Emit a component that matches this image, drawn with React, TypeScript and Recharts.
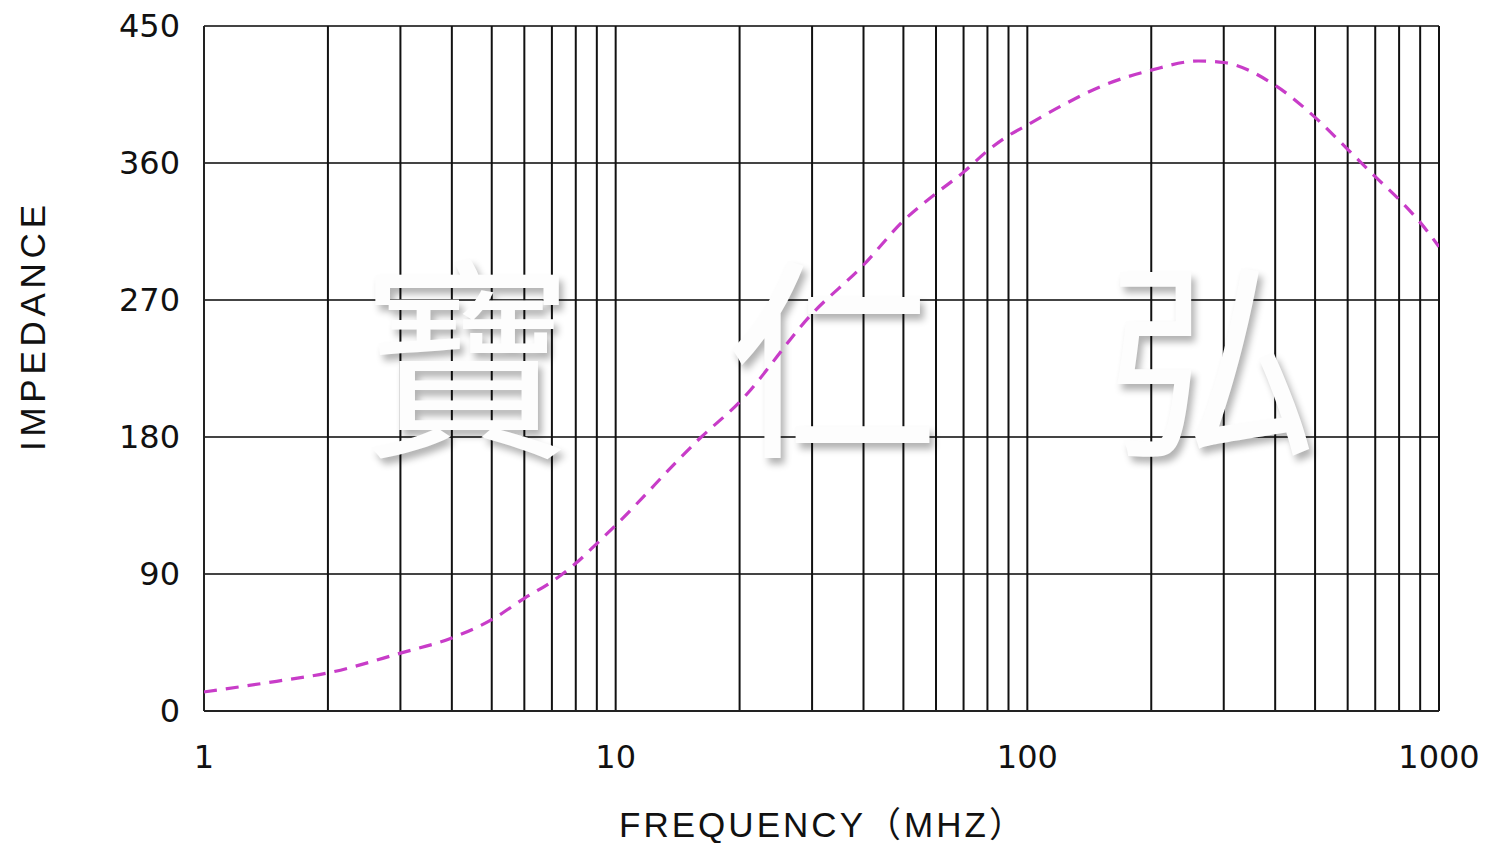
import { LineChart, Line, XAxis, YAxis, CartesianGrid } from "recharts";

// impedance curve (MHz -> ohm)
const frequencies = [
  1, 1.5, 2, 3, 4, 5, 6, 7, 8, 9, 10, 16, 20, 30, 40, 50, 60, 70, 80, 90, 100,
  120, 150, 200, 260, 300, 400, 500, 600, 700, 800, 900, 1000,
];
const impedances = [
  12.5, 19.5, 25, 38, 48, 60, 74, 85, 97, 110, 122, 179, 203, 261, 293, 322, 340,
  354, 368, 378, 385, 397, 410, 421, 427, 426, 411, 390, 369, 351, 336, 321, 305,
];

const yTicks = [0, 90, 180, 270, 360, 450];
const xTicks = [
  1, 2, 3, 4, 5, 6, 7, 8, 9, 10, 20, 30, 40, 50, 60, 70, 80, 90, 100, 200, 300,
  400, 500, 600, 700, 800, 900, 1000,
];
const xLabels = [1, 10, 100, 1000];
const watermark = ["寶", "仁", "弘"];

const data = frequencies.map((f, i) => ({ f, z: impedances[i] }));

const W = 1486;
const H = 843;
const tickFont = { fill: "#111", fontSize: 32, fontFamily: "DejaVu Sans" };
const titleFont = "'Liberation Sans', 'Noto Sans CJK SC', sans-serif";

function YTitle({ viewBox }: any) {
  const x = viewBox.x + 32;
  const y = viewBox.y + 302;
  return (
    <text
      x={x}
      y={y}
      transform={`rotate(-90 ${x} ${y})`}
      textAnchor="middle"
      dominantBaseline="central"
      fontSize={35}
      fontFamily={titleFont}
      textLength={246}
      lengthAdjust="spacing"
      fill="#111"
    >
      IMPEDANCE
    </text>
  );
}

function XTitle({ viewBox }: any) {
  return (
    <text
      x={viewBox.x + viewBox.width / 2}
      y={viewBox.y + 126}
      textAnchor="middle"
      fontSize={35}
      fontFamily={titleFont}
      textLength={405}
      lengthAdjust="spacing"
      fill="#111"
    >
      FREQUENCY（MHZ）
    </text>
  );
}

export default function App() {
  return (
    <div
      style={{
        position: "absolute",
        left: 0,
        top: 0,
        width: W,
        height: H,
        background: "#fff",
        overflow: "hidden",
      }}
    >
      {/* grid + axes */}
      <div style={{ position: "absolute", left: 0, top: 0 }}>
        <LineChart
          width={W}
          height={H}
          data={data}
          margin={{ top: 26, right: 47, bottom: 0, left: 0 }}
        >
          <CartesianGrid vertical={false} stroke="#444" strokeWidth={2} />
          <CartesianGrid horizontal={false} stroke="#111" strokeWidth={2} />
          <XAxis
            dataKey="f"
            type="number"
            scale="log"
            domain={[1, 1000]}
            ticks={xTicks}
            interval={0}
            height={132}
            tickLine={false}
            tickMargin={28}
            axisLine={{ stroke: "#222", strokeWidth: 2 }}
            tick={tickFont}
            tickFormatter={(v) => (xLabels.includes(v) ? String(v) : "")}
            allowDataOverflow
            label={{ content: (p: any) => <XTitle viewBox={p.viewBox} /> }}
          />
          <YAxis
            dataKey="z"
            type="number"
            domain={[0, 450]}
            ticks={yTicks}
            interval={0}
            width={204}
            tickLine={false}
            tickMargin={18}
            axisLine={{ stroke: "#222", strokeWidth: 2 }}
            tick={tickFont}
            label={{ content: (p: any) => <YTitle viewBox={p.viewBox} /> }}
          />
          <Line
            dataKey="z"
            stroke="none"
            dot={false}
            activeDot={false}
            isAnimationActive={false}
          />
        </LineChart>
      </div>

      {/* watermark */}
      {watermark.map((ch, i) => (
        <span
          key={ch}
          style={{
            position: "absolute",
            left: [467, 832, 1212][i],
            top: 347,
            transform: "translate(-50%, -50%)",
            fontFamily: "'Noto Sans CJK TC', sans-serif",
            fontSize: 215,
            lineHeight: 1,
            color: "#fdfdfd",
            textShadow: "4px 6px 7px rgba(0,0,0,0.3)",
          }}
        >
          {ch}
        </span>
      ))}

      {/* curve on top */}
      <div style={{ position: "absolute", left: 0, top: 0 }}>
        <LineChart
          width={W}
          height={H}
          data={data}
          margin={{ top: 26, right: 47, bottom: 132, left: 204 }}
        >
          <XAxis
            dataKey="f"
            type="number"
            scale="log"
            domain={[1, 1000]}
            allowDataOverflow
            hide
          />
          <YAxis type="number" domain={[0, 450]} hide />
          <Line
            type="monotone"
            dataKey="z"
            stroke="#c83cc8"
            strokeWidth={3.2}
            strokeDasharray="13 9"
            dot={false}
            activeDot={false}
            isAnimationActive={false}
          />
        </LineChart>
      </div>
    </div>
  );
}
